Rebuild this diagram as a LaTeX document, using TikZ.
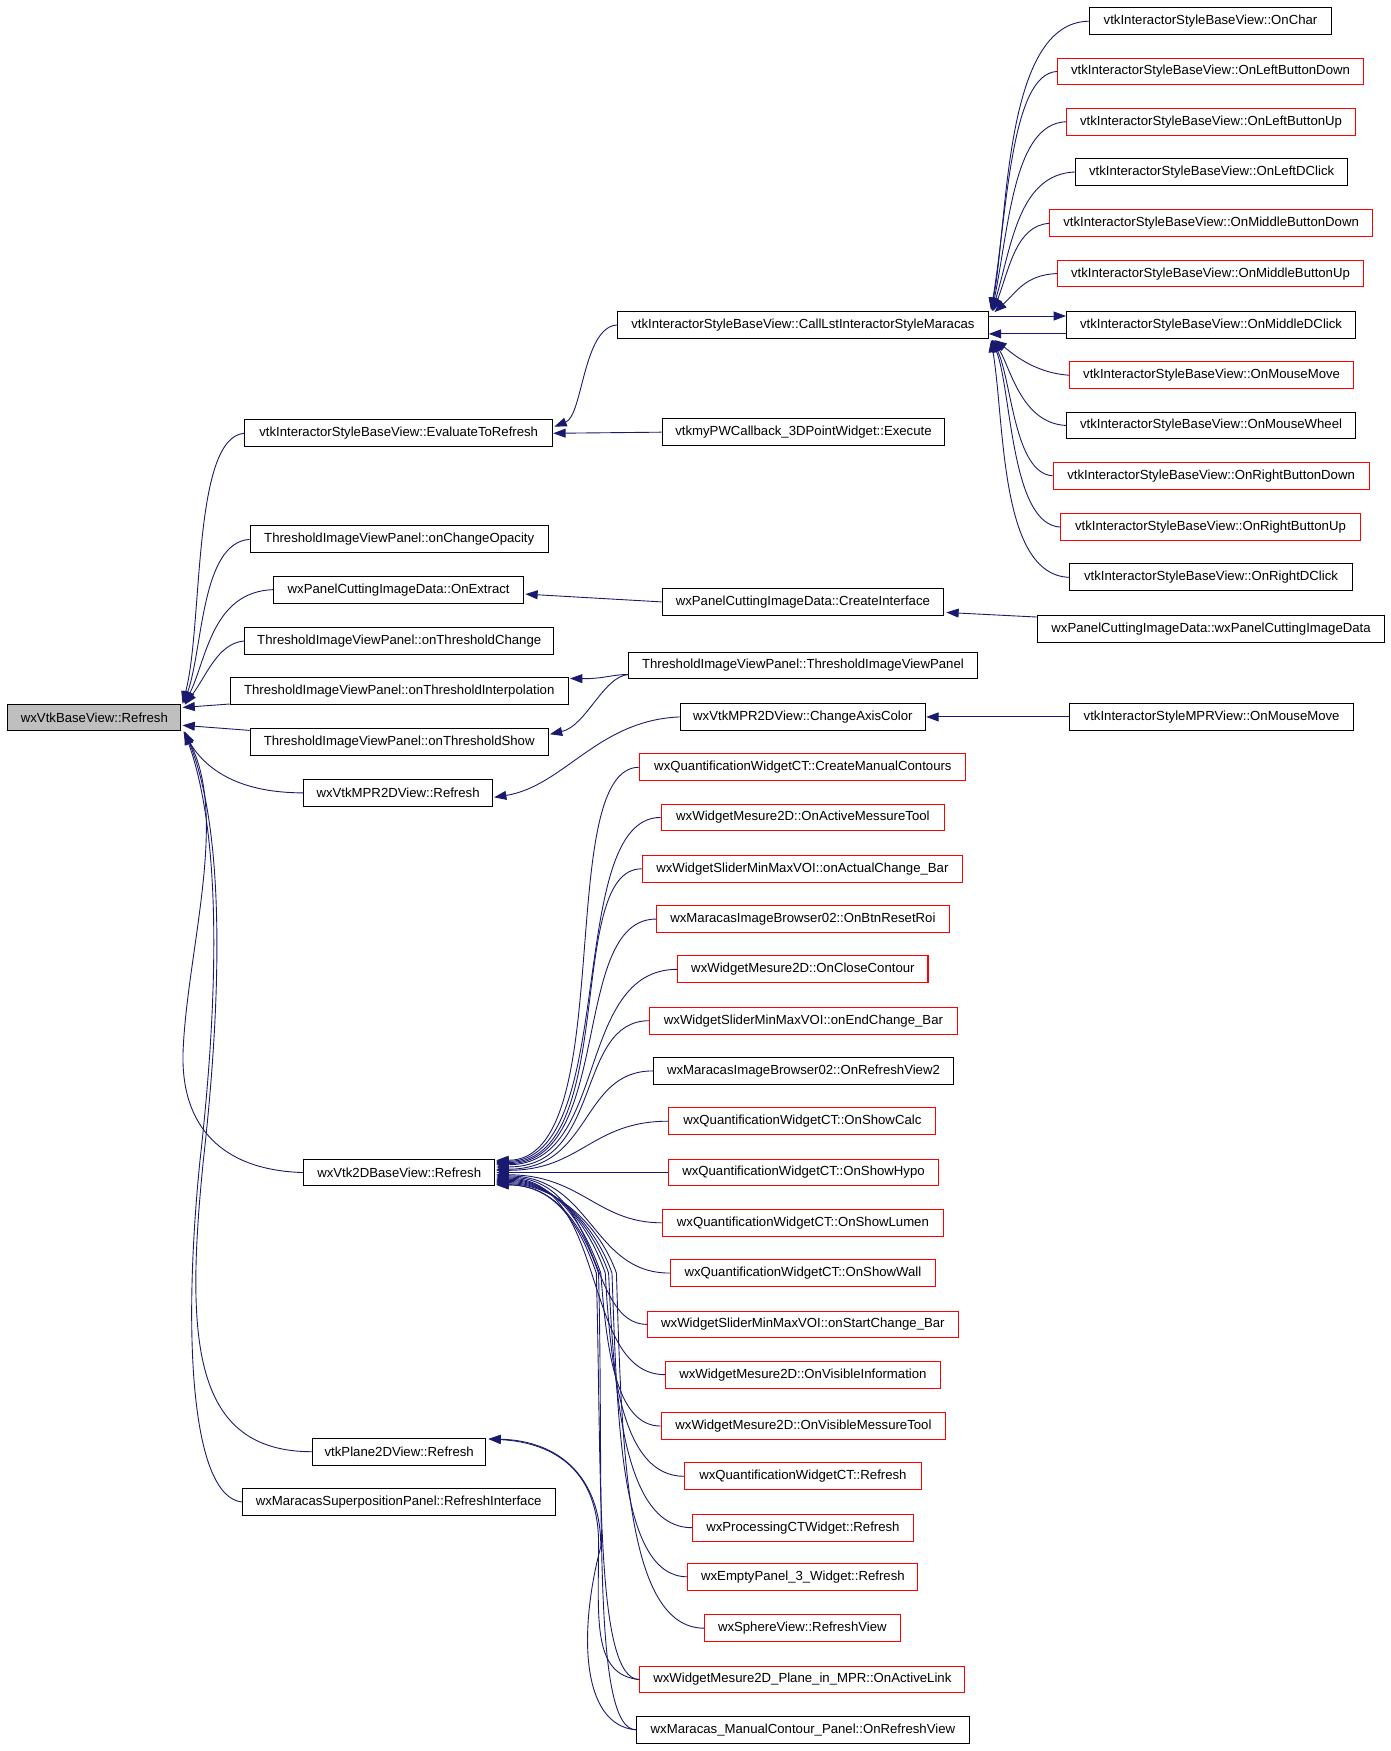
\documentclass[tikz,border=0pt]{standalone}
\usepackage{fontspec}
\setmainfont{Liberation Sans}
\usetikzlibrary{arrows.meta,calc}
\definecolor{edgecol}{RGB}{25,25,112}
\definecolor{rootgray}{RGB}{191,191,191}
\newcommand\fan[4]{\draw[e] ($(b2d.east)+(1,#1)$) .. controls +(#2,0) and +(-#3,0) .. (#4.west);}
% lower bundle: #1 dy, #2 via point, #3 k, #4 c2dx, #5 node
\newcommand\lfan[5]{\draw[e] ($(b2d.east)+(1,#1)$) .. controls +(55,0) and +(-14,-40) .. (#2)
   .. controls +(5,#3) and +(-#4,0) .. (#5.west);}
\begin{document}
\begin{tikzpicture}[x=1pt,y=-1pt,>={Triangle[length=11pt,width=8pt]},
  fn/.style={draw=black,line width=0.9pt,minimum height=24pt,inner sep=0pt,fill=white,
    font=\fontsize{11.8}{14}\selectfont},
  rfn/.style={fn,draw=red},
  e/.style={draw=edgecol,line width=0.8pt,<-},
  ef/.style={draw=edgecol,line width=0.8pt,->}]
\useasboundingbox (0,0) rectangle (1245,1568);
% ---- root
\node[fn,fill=rootgray,minimum width=155pt] (root) at (84.5,642.5) {wxVtkBaseView::Refresh};
% ---- column 2
\node[fn,minimum width=276pt] (etr) at (357,388) {vtkInteractorStyleBaseView::EvaluateToRefresh};
\node[fn,minimum width=267pt] (opa) at (357.5,483) {ThresholdImageViewPanel::onChangeOpacity};
\node[fn,minimum width=224pt] (ext) at (357,528) {wxPanelCuttingImageData::OnExtract};
\node[fn,minimum width=277pt] (tch) at (357.5,574) {ThresholdImageViewPanel::onThresholdChange};
\node[fn,minimum width=303pt] (tin) at (357.5,619) {ThresholdImageViewPanel::onThresholdInterpolation};
\node[fn,minimum width=267pt] (tsh) at (357.5,664.5) {ThresholdImageViewPanel::onThresholdShow};
\node[fn,minimum width=169pt] (mpr) at (356.5,710) {wxVtkMPR2DView::Refresh};
\node[fn,minimum width=171pt] (b2d) at (357.5,1050) {wxVtk2DBaseView::Refresh};
\node[fn,minimum width=155pt] (p2d) at (357.5,1300) {vtkPlane2DView::Refresh};
\node[fn,minimum width=280pt] (sup) at (357,1345) {wxMaracasSuperpositionPanel::RefreshInterface};
% ---- column 3
\node[fn,minimum width=332pt] (cll) at (719,291) {vtkInteractorStyleBaseView::CallLstInteractorStyleMaracas};
\node[fn,minimum width=253pt] (exe) at (719.5,387) {vtkmyPWCallback\_3DPointWidget::Execute};
\node[fn,minimum width=252pt] (cri) at (719,539) {wxPanelCuttingImageData::CreateInterface};
\node[fn,minimum width=312pt] (tiv) at (719,596) {ThresholdImageViewPanel::ThresholdImageViewPanel};
\node[fn,minimum width=220pt] (cac) at (719,642) {wxVtkMPR2DView::ChangeAxisColor};
\node[rfn,minimum width=292pt] (l1) at (719,687) {wxQuantificationWidgetCT::CreateManualContours};
\node[rfn,minimum width=254pt] (l2) at (719,732) {wxWidgetMesure2D::OnActiveMessureTool};
\node[rfn,minimum width=287pt] (l3) at (718.5,778) {wxWidgetSliderMinMaxVOI::onActualChange\_Bar};
\node[rfn,minimum width=262pt] (l4) at (719,823) {wxMaracasImageBrowser02::OnBtnResetRoi};
\node[rfn,minimum width=224pt] (l5) at (719,868) {wxWidgetMesure2D::OnCloseContour};
\node[rfn,minimum width=275pt] (l6) at (719.5,914) {wxWidgetSliderMinMaxVOI::onEndChange\_Bar};
\node[fn,minimum width=269pt] (l7) at (719.5,959) {wxMaracasImageBrowser02::OnRefreshView2};
\node[rfn,minimum width=239pt] (l8) at (718.5,1004) {wxQuantificationWidgetCT::OnShowCalc};
\node[rfn,minimum width=241pt] (l9) at (719.5,1050) {wxQuantificationWidgetCT::OnShowHypo};
\node[rfn,minimum width=252pt] (l10) at (719,1095) {wxQuantificationWidgetCT::OnShowLumen};
\node[rfn,minimum width=238pt] (l11) at (719,1140) {wxQuantificationWidgetCT::OnShowWall};
\node[rfn,minimum width=278pt] (l12) at (719,1186) {wxWidgetSliderMinMaxVOI::onStartChange\_Bar};
\node[rfn,minimum width=246pt] (l13) at (719,1231) {wxWidgetMesure2D::OnVisibleInformation};
\node[rfn,minimum width=255pt] (l14) at (719.5,1277) {wxWidgetMesure2D::OnVisibleMessureTool};
\node[rfn,minimum width=212pt] (l15) at (719,1322) {wxQuantificationWidgetCT::Refresh};
\node[rfn,minimum width=198pt] (l16) at (719,1368) {wxProcessingCTWidget::Refresh};
\node[rfn,minimum width=206pt] (l17) at (719,1412) {wxEmptyPanel\_3\_Widget::Refresh};
\node[rfn,minimum width=175pt] (l18) at (718.5,1458) {wxSphereView::RefreshView};
\node[rfn,minimum width=291pt] (l19) at (718.5,1504) {wxWidgetMesure2D\_Plane\_in\_MPR::OnActiveLink};
\node[fn,minimum width=298pt] (l20) at (719,1549) {wxMaracas\_ManualContour\_Panel::OnRefreshView};
% ---- column 4
\node[fn,minimum width=216pt] (c1) at (1084,19) {vtkInteractorStyleBaseView::OnChar};
\node[rfn,minimum width=274pt] (c2) at (1084,64) {vtkInteractorStyleBaseView::OnLeftButtonDown};
\node[rfn,minimum width=259pt] (c3) at (1084.5,109) {vtkInteractorStyleBaseView::OnLeftButtonUp};
\node[fn,minimum width=244pt] (c4) at (1085,154) {vtkInteractorStyleBaseView::OnLeftDClick};
\node[rfn,minimum width=289pt] (c5) at (1084.5,200) {vtkInteractorStyleBaseView::OnMiddleButtonDown};
\node[rfn,minimum width=274pt] (c6) at (1084,245) {vtkInteractorStyleBaseView::OnMiddleButtonUp};
\node[fn,minimum width=259pt] (c7) at (1084.5,291) {vtkInteractorStyleBaseView::OnMiddleDClick};
\node[rfn,minimum width=254pt] (c8) at (1085,336) {vtkInteractorStyleBaseView::OnMouseMove};
\node[fn,minimum width=259pt] (c9) at (1084.5,381) {vtkInteractorStyleBaseView::OnMouseWheel};
\node[rfn,minimum width=283pt] (c10) at (1084.5,426) {vtkInteractorStyleBaseView::OnRightButtonDown};
\node[rfn,minimum width=268pt] (c11) at (1084,472) {vtkInteractorStyleBaseView::OnRightButtonUp};
\node[fn,minimum width=253pt] (c12) at (1084.5,517) {vtkInteractorStyleBaseView::OnRightDClick};
\node[fn,minimum width=311pt] (pcc) at (1084.5,563) {wxPanelCuttingImageData::wxPanelCuttingImageData};
\node[fn,minimum width=254pt] (mmm) at (1085,642) {vtkInteractorStyleMPRView::OnMouseMove};
% ---- edges into root
\draw[e] ($(root.north east)+(1,0)$) .. controls (182,560) and (172,392) .. (etr.west);
\draw[e] ($(root.north east)+(2,0)$) .. controls (182,580) and (180,486) .. (opa.west);
\draw[e] ($(root.north east)+(3,0)$) .. controls (185,590) and (190,530) .. (ext.west);
\draw[e] ($(root.north east)+(3,1)$) .. controls (185,605) and (195,576) .. (tch.west);
\draw[e] ($(root.east)+(1,-9)$) -- ($(tin.south west)+(0,-1)$);
\draw[e] ($(root.east)+(1,7)$) -- ($(tsh.north west)+(0,2)$);
\draw[e] ($(root.south east)+(2,1)$) .. controls (185,690) and (215,710) .. (mpr.west);
\draw[e] ($(root.south east)+(2,0)$) .. controls (205,730) and (168,850) .. (164,940)
   .. controls (161,1010) and (200,1048) .. (b2d.west);
\draw[e] ($(root.south east)+(3,0)$) .. controls (200,740) and (200,880) .. (182,1040)
   .. controls (166,1200) and (172,1300) .. (p2d.west);
\draw[e] ($(root.south east)+(3,1)$) .. controls (197,745) and (197,880) .. (179,1040)
   .. controls (163,1200) and (172,1340) .. (sup.west);
% ---- column 2 <- column 3
\draw[e] ($(etr.east)+(1,-6)$) .. controls (522,372) and (522,293) .. (cll.west);
\draw[e] (etr.east) -- (exe.west);
\draw[e] ($(ext.east)+(1,4)$) -- (cri.west);
\draw[e] ($(cri.south east)+(2,-3)$) -- ($(pcc.north west)+(0,2)$);
\draw[e] ($(tin.north east)+(1,1)$) .. controls (540,608) and (548,604) .. ($(tiv.west)+(0,8)$);
\draw[e] ($(tsh.east)+(1,-7)$) .. controls (525,650) and (540,606) .. ($(tiv.west)+(0,8)$);
\draw[e] ($(mpr.east)+(1,4)$) .. controls (505,704) and (535,645) .. (cac.west);
\draw[e] (cac.east) -- (mmm.west);
% ---- CallLst <- column 4
\draw[e] ($(cll.north east)+(2,-1)$) .. controls (903,200) and (898,19) .. (c1.west);
\draw[e] ($(cll.north east)+(2,-1)$) .. controls (902,190) and (905,66) .. (c2.west);
\draw[e] ($(cll.north east)+(3,-1)$) .. controls (904,200) and (908,111) .. (c3.west);
\draw[e] ($(cll.north east)+(3,0)$) .. controls (906,220) and (912,156) .. (c4.west);
\draw[e] ($(cll.north east)+(4,0)$) .. controls (904,240) and (910,202) .. (c5.west);
\draw[e] ($(cll.north east)+(5,1)$) .. controls (910,262) and (918,246) .. (c6.west);
\draw[ef] ($(cll.east)+(0,-8)$) -- ($(c7.west)+(0,-8)$);
\draw[e] ($(cll.east)+(0,8)$) -- ($(c7.west)+(0,8)$);
\draw[e] ($(cll.south east)+(5,1)$) .. controls (905,315) and (925,334) .. (c8.west);
\draw[e] ($(cll.south east)+(4,1)$) .. controls (905,330) and (915,379) .. (c9.west);
\draw[e] ($(cll.south east)+(3,1)$) .. controls (906,340) and (908,424) .. (c10.west);
\draw[e] ($(cll.south east)+(3,1)$) .. controls (906,350) and (905,470) .. (c11.west);
\draw[e] ($(cll.south east)+(2,1)$) .. controls (900,380) and (895,515) .. (c12.west);
% ---- wxVtk2DBaseView::Refresh fan
\fan{-11}{111}{78}{l1}
\fan{-10}{111}{87}{l2}
\fan{-9}{111}{70}{l3}
\fan{-8}{106}{78}{l4}
\fan{-7}{101}{92}{l5}
\fan{-5}{96}{67}{l6}
\fan{-3}{86}{65}{l7}
\fan{-2}{76}{69}{l8}
\fan{0}{60}{60}{l9}
\fan{2}{76}{58}{l10}
\fan{3}{86}{70}{l11}
\fan{4}{96}{55}{l12}
\fan{5}{101}{76}{l13}
\lfan{6}{538,1140}{68}{40}{l14}
\lfan{7}{542,1140}{90}{55}{l15}
\lfan{8}{545,1140}{114}{60}{l16}
\lfan{9}{548,1140}{136}{60}{l17}
\lfan{10}{552,1140}{160}{70}{l18}
\lfan{11}{534,1140}{180}{40}{l19}
\lfan{11}{536,1140}{200}{40}{l20}
% ---- vtkPlane2DView::Refresh
\draw[e] ($(p2d.north east)+(2,1)$) .. controls (500,1292) and (536,1320) .. (536,1382)
   .. controls (536,1450) and (530,1500) .. (l19.west);
\draw[e] ($(p2d.north east)+(2,1)$) .. controls (500,1290) and (538,1322) .. (538,1385)
   .. controls (518,1460) and (520,1545) .. (l20.west);
\end{tikzpicture}
\end{document}
